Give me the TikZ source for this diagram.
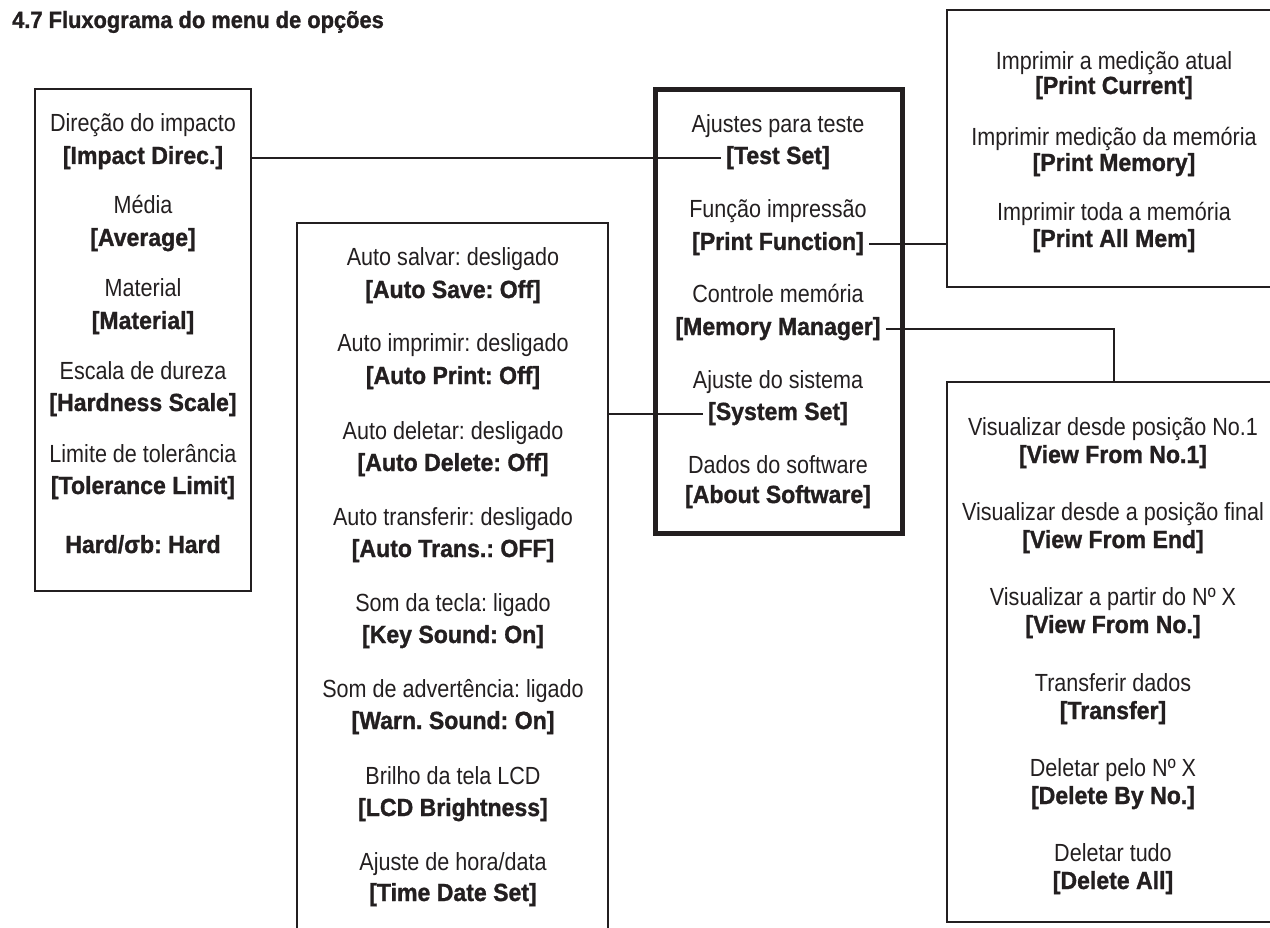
\documentclass[tikz,border=0pt]{standalone}
\usepackage{fontspec}
\setmainfont{Liberation Sans}[FakeStretch=0.87,BoldFeatures={FakeStretch=0.93,FakeBold=1.2}]
\frenchspacing
\usepackage{tikz}
\definecolor{ink}{RGB}{35,31,32}
\tikzstyle{menubox} = [draw=ink, line width=2pt, inner sep=0pt]
\tikzstyle{optxt} = [text=ink, anchor=base, inner sep=0pt, font=\fontsize{24.8}{28}\selectfont]
\tikzstyle{opkey} = [optxt, inner xsep=5pt, font=\fontsize{24.8}{28}\selectfont\bfseries]
\tikzstyle{link} = [draw=ink, line width=2pt]

\begin{document}
\begin{tikzpicture}[x=1pt, y=-1pt]
                    \useasboundingbox (0,0) rectangle (1270,928);
                    \node[text=ink, anchor=base west, inner sep=0pt, font=\fontsize{23.5}{27}\selectfont\bfseries] (title) at (12,28) {4.7 Fluxograma do menu de opções};
                    % boxes
                    \node[menubox, minimum width=216, minimum height=502] (impactbox) at (143,340) {};
                    \node[menubox, minimum width=311, minimum height=737] (setupbox) at (452.5,591.5) {};
                    \node[menubox, line width=5pt, minimum width=247, minimum height=443] (menubox) at (778.5,311.5) {};
                    \node[menubox, minimum width=333, minimum height=277] (printbox) at (1113.5,148.5) {};
                    \node[menubox, minimum width=333, minimum height=540] (memorybox) at (1113.5,652) {};
                    % test set
                    \node[optxt] (impacttxt) at (143,132) {Direção do impacto};
                    \node[opkey] (impact) at (143,164) {[Impact Direc.]};
                    \node[optxt] (averagetxt) at (143,214) {Média};
                    \node[opkey] (average) at (143,246) {[Average]};
                    \node[optxt] (materialtxt) at (143,297) {Material};
                    \node[opkey] (material) at (143,329) {[Material]};
                    \node[optxt] (scaletxt) at (143,379) {Escala de dureza};
                    \node[opkey] (scale) at (143,411) {[Hardness Scale]};
                    \node[optxt] (limittxt) at (143,462) {Limite de tolerância};
                    \node[opkey] (limit) at (143,494) {[Tolerance Limit]};
                    \node[opkey] (hard) at (143,553) {Hard/σb: Hard};
                    % main menu
                    \node[optxt] (testsettxt) at (778,133) {Ajustes para teste};
                    \node[opkey] (testset) at (778,164) {[Test Set]};
                    \node[optxt] (printfntxt) at (778,218) {Função impressão};
                    \node[opkey] (printfn) at (778,250) {[Print Function]};
                    \node[optxt] (memorytxt) at (778,303) {Controle memória};
                    \node[opkey] (memory) at (778,335) {[Memory Manager]};
                    \node[optxt] (systemtxt) at (778,388) {Ajuste do sistema};
                    \node[opkey] (system) at (778,420) {[System Set]};
                    \node[optxt] (abouttxt) at (778,473) {Dados do software};
                    \node[opkey] (about) at (778,503) {[About Software]};
                    % print function
                    \node[optxt] (curtxt) at (1114,70) {Imprimir a medição atual};
                    \node[opkey] (cur) at (1114,94) {[Print Current]};
                    \node[optxt] (memprtxt) at (1114,146) {Imprimir medição da memória};
                    \node[opkey] (mempr) at (1114,171) {[Print Memory]};
                    \node[optxt] (allmemtxt) at (1114,221) {Imprimir toda a memória};
                    \node[opkey] (allmem) at (1114,247) {[Print All Mem]};
                    % system set
                    \node[optxt] (savetxt) at (453,266) {Auto salvar: desligado};
                    \node[opkey] (save) at (453,298) {[Auto Save: Off]};
                    \node[optxt] (autoprtxt) at (453,352) {Auto imprimir: desligado};
                    \node[opkey] (autopr) at (453,384) {[Auto Print: Off]};
                    \node[optxt] (deltxt) at (453,439) {Auto deletar: desligado};
                    \node[opkey] (del) at (453,471) {[Auto Delete: Off]};
                    \node[optxt] (transtxt) at (453,525) {Auto transferir: desligado};
                    \node[opkey] (trans) at (453,557) {[Auto Trans.: OFF]};
                    \node[optxt] (keytxt) at (453,611) {Som da tecla: ligado};
                    \node[opkey] (keysnd) at (453,643) {[Key Sound: On]};
                    \node[optxt] (warntxt) at (453,697) {Som de advertência: ligado};
                    \node[opkey] (warn) at (453,729) {[Warn. Sound: On]};
                    \node[optxt] (lcdtxt) at (453,784) {Brilho da tela LCD};
                    \node[opkey] (lcd) at (453,816) {[LCD Brightness]};
                    \node[optxt] (timetxt) at (453,870) {Ajuste de hora/data};
                    \node[opkey] (time) at (453,901) {[Time Date Set]};
                    % memory manager
                    \node[optxt] (firsttxt) at (1113,435) {Visualizar desde posição No.1};
                    \node[opkey] (first) at (1113,463) {[View From No.1]};
                    \node[optxt] (endtxt) at (1113,520) {Visualizar desde a posição final};
                    \node[opkey] (end) at (1113,548) {[View From End]};
                    \node[optxt] (fromtxt) at (1113,605) {Visualizar a partir do Nº X};
                    \node[opkey] (from) at (1113,633) {[View From No.]};
                    \node[optxt] (transfertxt) at (1113,691) {Transferir dados};
                    \node[opkey] (transfer) at (1113,719) {[Transfer]};
                    \node[optxt] (delnotxt) at (1113,776) {Deletar pelo Nº X};
                    \node[opkey] (delno) at (1113,804) {[Delete By No.]};
                    \node[optxt] (delalltxt) at (1113,861) {Deletar tudo};
                    \node[opkey] (delall) at (1113,889) {[Delete All]};
                    % links
                    \draw[link] (impactbox.east |- impact.east) -- (testset.west);
                    \draw[link] (printfn.east) -- (printbox.west |- printfn.east);
                    \draw[link] (memory.east) -| (memorybox.north);
                    \draw[link] (setupbox.east |- system.west) -- (system.west);
                \end{tikzpicture}
\end{document}
